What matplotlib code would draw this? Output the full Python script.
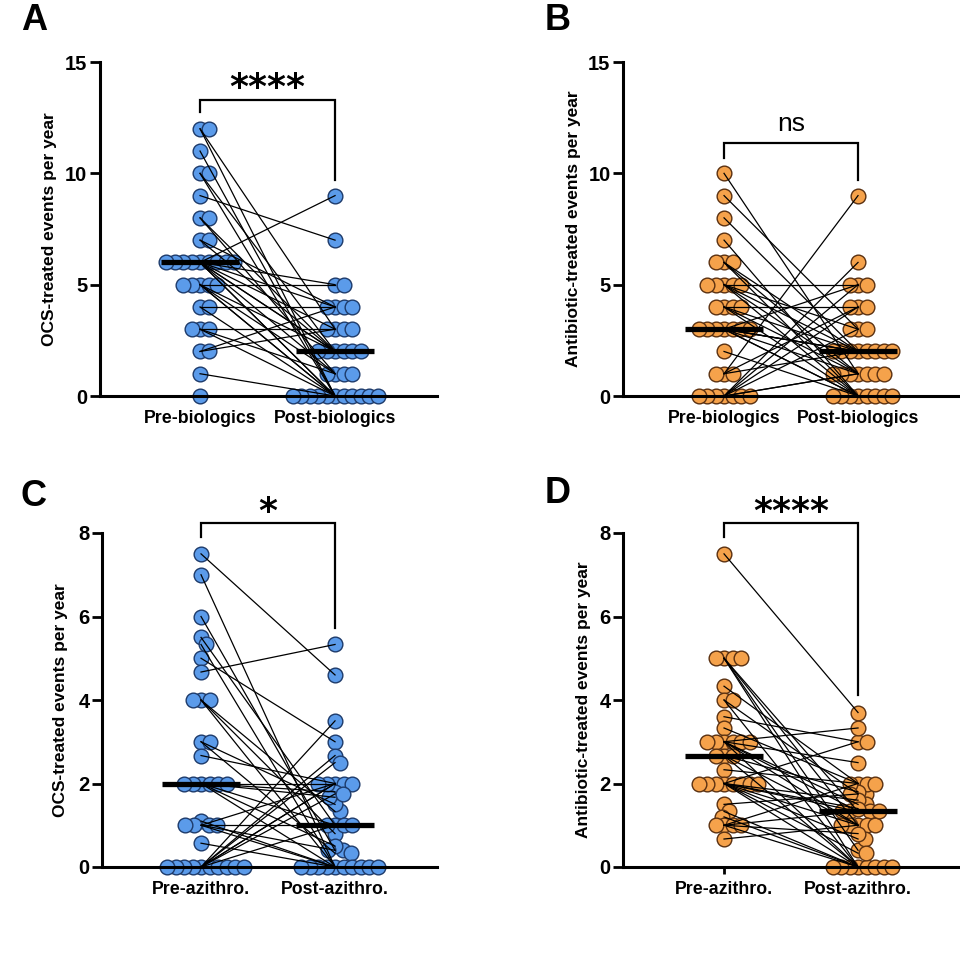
import numpy as np
import matplotlib
matplotlib.use("Agg")
import matplotlib.pyplot as plt

plt.rcParams['font.family'] = ['Liberation Sans', 'DejaVu Sans']

# ---------------- data ----------------
# Panel A: OCS-treated events per year, pre/post biologics (paired)
a_pre = [12, 12, 11, 10, 10, 9, 8, 8, 7, 7, 6, 6, 6, 6, 6, 6, 6, 6, 6,
         5, 5, 5, 5, 5, 4, 4, 3, 3, 3, 2, 2, 1, 0]
a_post = [3, 0, 0, 0, 2, 7, 1, 2, 4, 2, 9, 0, 1, 2, 3, 5, 4, 2, 0,
          5, 2, 0, 1, 0, 4, 0, 1, 3, 0, 4, 3, 0, 0]

# Panel B: antibiotic-treated events per year, pre/post biologics (paired)
b_pre = [10, 9, 8, 7, 6, 6, 6, 5, 5, 5, 5, 5, 4, 4, 4, 4, 3,
         3, 3, 3, 3, 3, 3, 2, 1, 1, 1, 0, 0, 0, 0, 0, 0, 0]
b_post = [1, 3, 2, 0, 2, 1, 0, 5, 2, 1, 0, 3, 4, 2, 0, 1, 2,
          0, 2, 1, 5, 0, 2, 0, 9, 4, 2, 6, 5, 4, 3, 1, 1, 0]

# Panel C: OCS-treated events per year, pre/post azithromycin (paired)
c_pre = [7.5, 7, 6, 5.5, 5.33, 5, 4.67, 4, 4, 4, 3, 3, 2.67, 2, 2, 2, 2, 2, 2,
         1.1, 1, 1, 1, 1, 0.57, 0, 0, 0, 0, 0, 0, 0, 0, 0, 0]
c_post = [4.6, 0, 0.4, 1, 0, 3, 5.33, 0.8, 1.33, 0, 1.5, 0.33, 2, 2, 1.8, 0, 1, 0.5, 1.67,
          0, 1, 2, 0, 0.4, 0, 3.5, 2.67, 2.5, 2, 1.75, 2, 1, 0, 0, 0]

# Panel D: antibiotic-treated events per year, pre/post azithromycin (paired)
d_pre = [7.5, 5, 5, 5, 5, 4.33, 4, 4, 3.6, 3.33, 3, 3, 3, 3, 3, 3, 2.67, 2.67, 2.67,
         2.33, 2, 2, 2, 2, 2, 2, 2, 2, 1.5, 1.33, 1.2, 1, 1, 1, 1, 0.67]
d_post = [3.7, 1, 0, 1.33, 0.4, 2, 0, 1.75, 3, 2, 3.33, 1.5, 0, 1.33, 2.5, 1, 1.8, 0, 1,
          2, 1.6, 0.67, 1.33, 3, 1, 0, 1.4, 0.33, 1.75, 0, 0, 2, 0.8, 1.33, 0, 1]

labels_bio = ["Pre-biologics", "Post-biologics"]
labels_azi = ["Pre-azithro.", "Post-azithro."]
ylab_ocs = "OCS-treated events per year"
ylab_abx = "Antibiotic-treated events per year"
ticks15 = [0, 5, 10, 15]
ticks8 = [0, 2, 4, 6, 8]
sig = ["****", "ns", "*", "****"]

BLUE, BLUE_E = "#5b9bea", "#1d3a6a"
ORANGE, ORANGE_E = "#f5a24b", "#5a3010"

fig = plt.figure(figsize=(9.6, 9.56), dpi=100)
W, H = 960.0, 956.0


def add_ax(left, top, right, bottom):
    return fig.add_axes([left / W, 1 - bottom / H, (right - left) / W, (bottom - top) / H])


axA = add_ax(100, 62, 437, 396)
axB = add_ax(623, 62, 960, 396)
axC = add_ax(102, 533, 437, 867)
axD = add_ax(623, 533, 960, 867)


def swarm(ax, xc, vals, dmin=8.2):
    vals = np.asarray(vals, float)
    trans = ax.transData
    pts = trans.transform(np.column_stack([np.full(len(vals), xc), vals]))
    order = np.argsort(-vals, kind="stable")
    placed = []
    xs = np.zeros(len(vals))
    cands = [0]
    for k in range(1, 200):
        cands += [k * 0.5, -k * 0.5]
    for i in order:
        y = pts[i, 1]
        for c in cands:
            x = pts[i, 0] + c
            ok = True
            for (px, py) in placed:
                if (x - px) ** 2 + (y - py) ** 2 < dmin ** 2:
                    ok = False
                    break
            if ok:
                break
        placed.append((x, y))
        xs[i] = x
    back = trans.inverted().transform(np.column_stack([xs, pts[:, 1]]))
    return back[:, 0]


def panel(ax, pre, post, xlabels, ylabel, yticks, fc, ec, sigtxt,
          br_top, br_l, br_r, label_x, xlim):
    ax.set_xlim(*xlim)
    ax.set_ylim(0, yticks[-1])
    for s in ["top", "right"]:
        ax.spines[s].set_visible(False)
    for s in ["left", "bottom"]:
        ax.spines[s].set_linewidth(2.2)
    ax.set_yticks(yticks)
    ax.set_xticks([0, 1])
    ax.set_xticklabels(xlabels, fontsize=12.8, fontweight="bold")
    ax.tick_params(axis="y", length=7, width=2, pad=2, labelsize=14.5)
    ax.tick_params(axis="x", length=5, width=2, pad=5)
    for t in ax.get_yticklabels():
        t.set_fontweight("bold")
    ax.set_ylabel(ylabel, fontsize=12.5, fontweight="bold")
    ax.yaxis.set_label_coords(label_x, 0.5)

    pre = np.asarray(pre, float)
    post = np.asarray(post, float)
    xpre = swarm(ax, 0, pre)
    xpost = swarm(ax, 1, post)
    ax.scatter(xpre, pre, s=112, color=fc, edgecolor=ec, linewidth=1.0,
               zorder=2, clip_on=False)
    ax.scatter(xpost, post, s=112, color=fc, edgecolor=ec, linewidth=1.0,
               zorder=2, clip_on=False)
    for p, q in zip(pre, post):
        ax.plot([0, 1], [p, q], color="black", lw=0.9, zorder=3, clip_on=False)
    for xc, v in [(0, pre), (1, post)]:
        m = np.median(v)
        ax.plot([xc - 0.29, xc + 0.29], [m, m], color="black", lw=3.8,
                solid_capstyle="butt", zorder=4, clip_on=False)
    # significance bracket
    ax.plot([0, 0, 1, 1], [br_l, br_top, br_top, br_r], color="black",
            lw=1.6, zorder=4, clip_on=False, solid_joinstyle="miter")
    if sigtxt == "ns":
        ax.annotate(sigtxt, (0.5, br_top), xytext=(0, 9), textcoords="offset points",
                    ha="center", va="baseline", fontsize=19, annotation_clip=False)
    else:
        ax.annotate(sigtxt, (0.5, br_top), xytext=(0, 1), textcoords="offset points",
                    ha="center", va="baseline", fontsize=26, fontweight="bold",
                    family=["DejaVu Sans"], annotation_clip=False)


panel(axA, a_pre, a_post, labels_bio, ylab_ocs, ticks15, BLUE, BLUE_E, sig[0],
      13.3, 12.75, 9.7, -0.128, (-0.741, 1.755))
panel(axB, b_pre, b_post, labels_bio, ylab_abx, ticks15, ORANGE, ORANGE_E, sig[1],
      11.36, 10.7, 9.7, -0.126, (-0.754, 1.761))
panel(axC, c_pre, c_post, labels_azi, ylab_ocs, ticks8, BLUE, BLUE_E, sig[2],
      8.24, 7.9, 5.72, -0.102, (-0.739, 1.761))
panel(axD, d_pre, d_post, labels_azi, ylab_abx, ticks8, ORANGE, ORANGE_E, sig[3],
      8.24, 7.9, 4.12, -0.096, (-0.754, 1.761))

for letter, (x, y) in zip("ABCD", [(34, 20), (558, 21), (34, 496), (558, 493)]):
    fig.text(x / W, 1 - y / H, letter, fontsize=26, fontweight="bold",
             ha="center", va="center")

fig.savefig("out.png", dpi=100)
